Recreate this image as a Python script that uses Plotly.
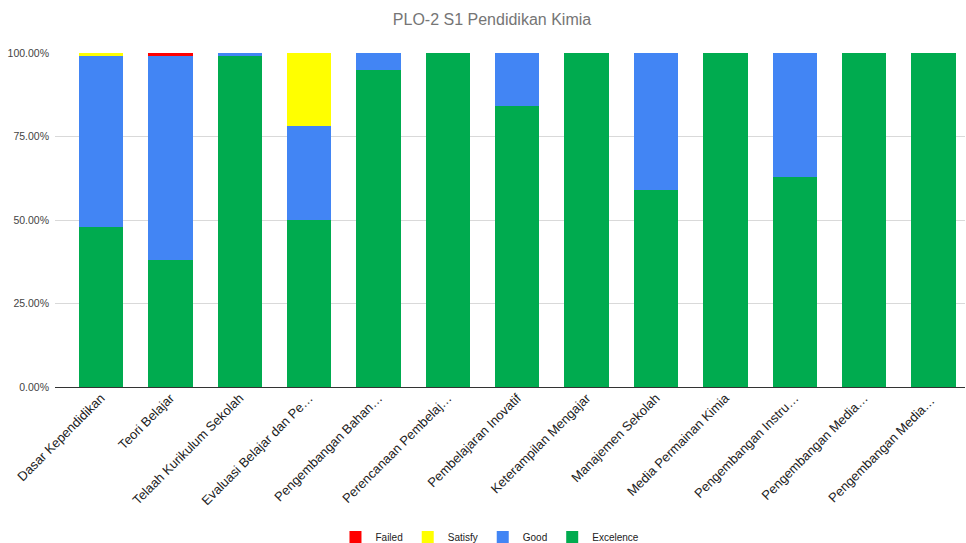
import plotly.graph_objects as go

# ------Data--------
courses = [
    "Dasar Kependidikan", "Teori Belajar", "Telaah Kurikulum Sekolah",
    "Evaluasi Belajar dan Pe…", "Pengembangan Bahan…", "Perencanaan Pembelaj…",
    "Pembelajaran Inovatif", "Keterampilan Mengajar", "Manajemen Sekolah",
    "Media Permainan Kimia", "Pengembangan Instru…", "Pengembangan Media…",
    "Pengembangan Media… ",
]
excelence = [0.48, 0.38, 0.99, 0.50, 0.95, 1.00, 0.84, 1.00, 0.59, 1.00, 0.63, 1.00, 1.00]
good      = [0.51, 0.61, 0.01, 0.28, 0.05, 0.00, 0.16, 0.00, 0.41, 0.00, 0.37, 0.00, 0.00]
satisfy   = [0.01, 0.00, 0.00, 0.22, 0.00, 0.00, 0.00, 0.00, 0.00, 0.00, 0.00, 0.00, 0.00]
failed    = [0.00, 0.01, 0.00, 0.00, 0.00, 0.00, 0.00, 0.00, 0.00, 0.00, 0.00, 0.00, 0.00]

series = [
    ("Excelence", excelence, "#00ab4f"),
    ("Good", good, "#4285f4"),
    ("Satisfy", satisfy, "#ffff00"),
    ("Failed", failed, "#ff0000"),
]

# ------Graph Generation--------
fig = go.Figure()
for name, vals, color in series:
    fig.add_trace(go.Bar(x=courses, y=vals, name=name,
                         marker=dict(color=color, line_width=0)))

fig.update_layout(
    barmode="stack",
    bargap=0.36,
    width=966, height=543,
    margin=dict(l=55, r=1, t=53, b=156),
    plot_bgcolor="white", paper_bgcolor="white",
    font=dict(family="Arial, Liberation Sans, sans-serif", color="#222"),
    title=dict(text="PLO-2 S1 Pendidikan Kimia", x=492 / 966, xanchor="center",
               y=1 - 19 / 543, yanchor="middle",
               font=dict(size=16, color="#757575")),
    legend=dict(orientation="h", traceorder="reversed", x=0.478, xanchor="center",
                yref="container", y=6 / 543, yanchor="middle",
                font=dict(size=10, color="#222"), itemwidth=30),
    showlegend=True,
)

# --------Axes-----------
fig.update_xaxes(range=[-0.663, 12.454], tickangle=-45, tickfont=dict(size=13, color="#222"),
                 showgrid=False, showline=False, ticks="", automargin=False)
fig.update_yaxes(range=[0, 1], tickvals=[0, 0.25, 0.5, 0.75, 1], tickformat=".2%",
                 tickfont=dict(size=10.5, color="#444"), gridcolor="#d9d9d9", gridwidth=1,
                 zeroline=True, zerolinecolor="#333", zerolinewidth=1,
                 ticks="", ticklabelstandoff=5, automargin=False)

# page body has a default 8px margin; drop it so the chart sits at the window's corner
fig.write_html("out.html", config=dict(displayModeBar=False),
               post_script="document.body.style.margin = '0';")
